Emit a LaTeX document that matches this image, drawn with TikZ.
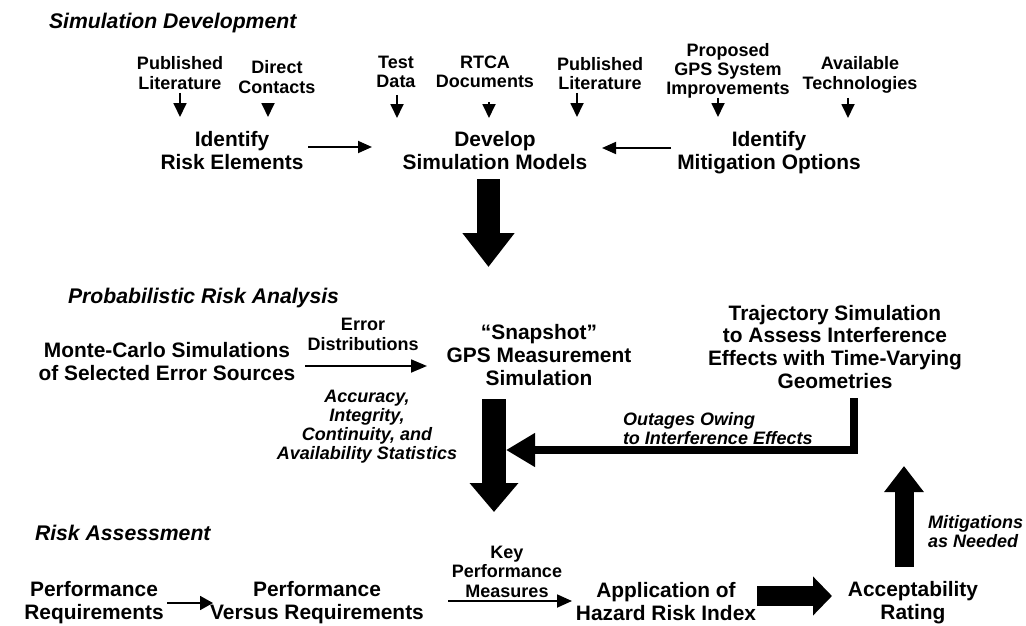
\documentclass[tikz,border=0pt]{standalone}
\usepackage{fontspec}
\setmainfont{Liberation Sans}
\usetikzlibrary{arrows.meta}
\begin{document}
\begin{tikzpicture}[x=1pt,y=-1pt,
  every node/.style={inner sep=0pt,outer sep=0pt,anchor=base},
  mainlbl/.style={font=\fontsize{20.9}{22.6}\selectfont\bfseries,align=center},
  smalllbl/.style={font=\fontsize{18}{19.2}\selectfont\bfseries,align=center},
  itlbl/.style={font=\fontsize{18}{19}\selectfont\bfseries\itshape},
  headlbl/.style={font=\fontsize{21.2}{22}\selectfont\bfseries\itshape,anchor=base west},
  thinarr/.style={line width=1.8pt,-{Triangle[length=14pt 0,width=13pt 0]}},
  harr/.style={line width=1.8pt,-{Triangle[length=14pt 0,width=12pt 0]}}
]
\useasboundingbox (0,0) rectangle (1026,626);

% headings
\node[headlbl] (h1) at (49,29) {Simulation Development};
\node[headlbl] (h2) at (68,303) {Probabilistic Risk Analysis};
\node[headlbl] (h3) at (35,540) {Risk Assessment};

% inputs (anchor base = baseline of last line)
\node[smalllbl] (pl1) at (180,89) {Published\\Literature};
\node[smalllbl] (dc) at (277,93) {Direct\\Contacts};
\node[smalllbl] (td) at (396,88) {Test\\Data};
\node[smalllbl] (rtca) at (485,88) {RTCA\\Documents};
\node[smalllbl] (pl2) at (600,90) {Published\\Literature};
\node[smalllbl] (prop) at (728,95) {Proposed\\GPS System\\Improvements};
\node[smalllbl] (avail) at (860,89) {Available\\Technologies};

% row 1
\node[mainlbl] (ire) at (232,169) {Identify\\Risk Elements};
\node[mainlbl] (dsm) at (495,169) {Develop\\Simulation Models};
\node[mainlbl] (imo) at (769,169) {Identify\\Mitigation Options};

% row 2
\node[mainlbl] (mc) at (167,380) {Monte-Carlo Simulations\\of Selected Error Sources};
\node[smalllbl] (ed) at (363,350) {Error\\Distributions};
\node[mainlbl] (snap) at (539,385) {“Snapshot”\\GPS Measurement\\Simulation};
\node[mainlbl] (traj) at (835,388) {Trajectory Simulation\\to Assess Interference\\Effects with Time-Varying\\Geometries};
\node[itlbl,align=center] (acc) at (367,459) {Accuracy,\\Integrity,\\Continuity, and\\Availability Statistics};
\node[itlbl,align=left,anchor=base west] (out) at (623,444) {Outages Owing\\to Interference Effects};

% row 3
\node[mainlbl] (pr) at (94,619) {Performance\\Requirements};
\node[mainlbl] (pvr) at (317,619) {Performance\\Versus Requirements};
\node[smalllbl] (kpm) at (507,597) {Key\\Performance\\Measures};
\node[mainlbl] (hri) at (666,620) {Application of\\Hazard Risk Index};
\node[mainlbl] (ar) at (913,619) {Acceptability\\Rating};
\node[itlbl,align=left,anchor=base west] (mit) at (928,547) {Mitigations\\as Needed};

% input arrows
\coordinate (a1s) at (180,93);  \coordinate (a1e) at (180,117);
\coordinate (a2s) at (268,103); \coordinate (a2e) at (268,117);
\coordinate (a3s) at (397,95);  \coordinate (a3e) at (397,118);
\coordinate (a4s) at (489,102); \coordinate (a4e) at (489,118);
\coordinate (a5s) at (577,93);  \coordinate (a5e) at (577,117);
\coordinate (a6s) at (718,98);  \coordinate (a6e) at (718,117);
\coordinate (a7s) at (848,98);  \coordinate (a7e) at (848,118);
\foreach \i in {1,...,7} {\draw[thinarr] (a\i s) -- (a\i e);}

% row 1 arrows
\coordinate (ireR) at (308,147); \coordinate (dsmL) at (372,147);
\coordinate (imoL) at (671,148); \coordinate (dsmR) at (602,148);
\draw[harr] (ireR) -- (dsmL);
\draw[harr] (imoL) -- (dsmR);

% big arrow 1
\coordinate (dsmB) at (488.5,179); \coordinate (anaT) at (488.5,267);
\draw[line width=23pt,-{Triangle[length=34pt 0,width=50pt 0]}] (dsmB) -- (anaT);

% row 2 arrows
\coordinate (mcR) at (305,366); \coordinate (snapL) at (427,366);
\draw[line width=1.8pt,-{Triangle[length=16pt 0,width=13pt 0]}] (mcR) -- (snapL);
\coordinate (snapB) at (494,399); \coordinate (rsT) at (494,512);
\draw[line width=24pt,-{Triangle[length=29pt 0,width=47pt 0]}] (snapB) -- (rsT);
\coordinate (trajB) at (854,398); \coordinate (shaftR) at (506,450);
\draw[line width=8pt,-{Triangle[length=29pt 0,width=32pt 0]}] (trajB) |- (shaftR);

% row 3 arrows
\coordinate (prR) at (167,603); \coordinate (pvrL) at (213,603);
\draw[line width=1.8pt,-{Triangle[length=13pt 0,width=14pt 0]}] (prR) -- (pvrL);
\coordinate (pvrR) at (448,601); \coordinate (hriL) at (572,601);
\draw[line width=1.8pt,-{Triangle[length=15pt 0,width=13pt 0]}] (pvrR) -- (hriL);
\coordinate (hriR) at (757,596); \coordinate (arL) at (832,596);
\draw[line width=20pt,-{Triangle[length=19pt 0,width=38pt 0]}] (hriR) -- (arL);
\coordinate (arT) at (904,567); \coordinate (upT) at (904,466);
\draw[line width=19pt,-{Triangle[length=26pt 0,width=38pt 0]}] (arT) -- (upT);
\end{tikzpicture}
\end{document}
